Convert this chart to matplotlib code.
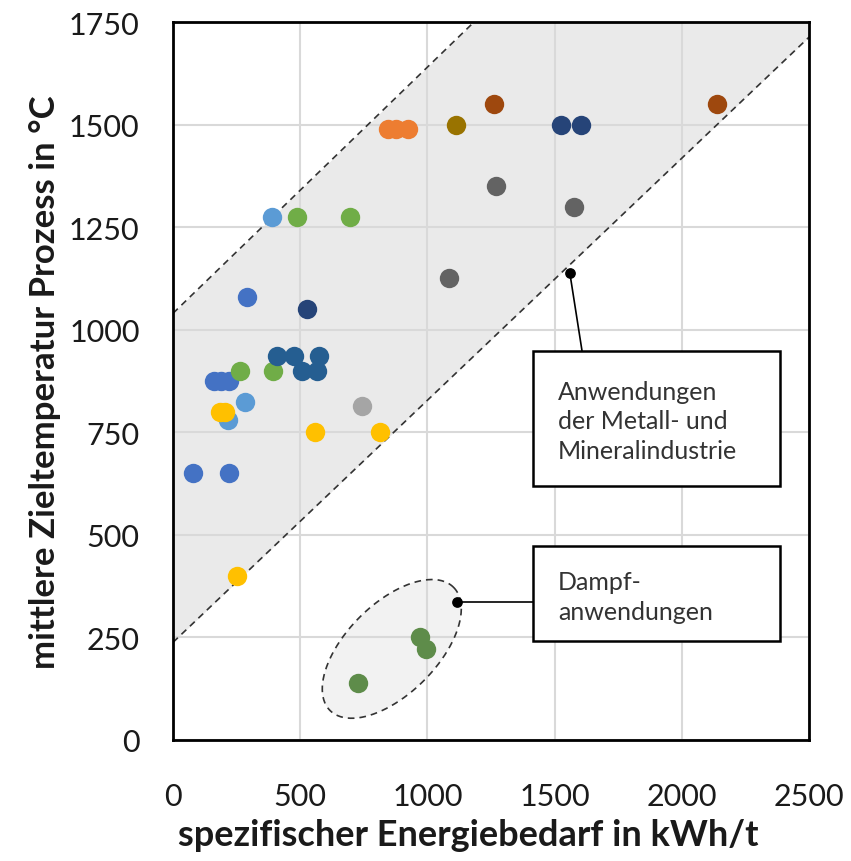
import numpy as np
import matplotlib.pyplot as plt
from matplotlib.patches import Rectangle

# ----------------------------------------------------------------------------
# Data (energy demand in kWh/t, target temperature in degC)
# ----------------------------------------------------------------------------
series_colors = ["#4472C4", "#5B9BD5", "#70AD47", "#255E91", "#264478",
                 "#FFC000", "#A5A5A5", "#ED7D31", "#997300", "#9E480E",
                 "#636363", "#5E8C4A"]

blue_x = [290, 160, 190, 220, 80, 220]
blue_y = [1080, 875, 875, 875, 650, 650]
lightblue_x = [390, 283, 216]
lightblue_y = [1275, 825, 780]
green_x = [487, 696, 263, 393]
green_y = [1275, 1275, 900, 900]
darkblue_x = [408, 475, 574, 507, 565]
darkblue_y = [935, 935, 935, 900, 900]
navy_x = [526, 1525, 1604]
navy_y = [1050, 1500, 1500]
yellow_x = [185, 205, 250, 558, 814]
yellow_y = [800, 800, 400, 750, 750]
gray_x = [741]
gray_y = [815]
orange_x = [845, 875, 925]
orange_y = [1490, 1490, 1490]
olive_x = [1112]
olive_y = [1500]
brown_x = [1262, 2140]
brown_y = [1550, 1550]
darkgray_x = [1270, 1576, 1085]
darkgray_y = [1350, 1300, 1125]
steam_x = [728, 971, 995]
steam_y = [140, 250, 222]

all_x = [blue_x, lightblue_x, green_x, darkblue_x, navy_x, yellow_x, gray_x,
         orange_x, olive_x, brown_x, darkgray_x, steam_x]
all_y = [blue_y, lightblue_y, green_y, darkblue_y, navy_y, yellow_y, gray_y,
         orange_y, olive_y, brown_y, darkgray_y, steam_y]

x_ticks = [0, 500, 1000, 1500, 2000, 2500]
y_ticks = [0, 250, 500, 750, 1000, 1250, 1500, 1750]

# band limits (dashed lines)
UPPER_B, UPPER_M = 1040, 0.60
LOWER_B, LOWER_M = 238, 0.59

# ----------------------------------------------------------------------------
# Plot
# ----------------------------------------------------------------------------
plt.rcParams['font.family'] = ['Lato', 'DejaVu Sans']

fig = plt.figure(figsize=(8.51, 8.62), dpi=100)
ax = fig.add_axes([0.2033, 0.1404, 0.7473, 0.8329])
ax.set_xlim(0, 2500)
ax.set_ylim(0, 1750)

# shaded band
xs = np.linspace(0, 2500, 501)
upper = UPPER_B + UPPER_M * xs
lower = LOWER_B + LOWER_M * xs
ax.fill_between(xs, lower, np.minimum(upper, 1750), color="#EAEAEA",
                lw=0, zorder=0.2)
ax.plot(xs, upper, ls=(0, (4, 3)), color="#333333", lw=1.2, zorder=2)
ax.plot(xs, lower, ls=(0, (4, 3)), color="#333333", lw=1.2, zorder=2)

# ellipse around steam applications
t = np.linspace(0, 2 * np.pi, 300)
cx, cy = 860, 222
ax_a = np.array([243, 150])
ax_b = np.array([125, -78])
ex = cx + ax_a[0] * np.cos(t) + ax_b[0] * np.sin(t)
ey = cy + ax_a[1] * np.cos(t) + ax_b[1] * np.sin(t)
ax.fill(ex, ey, color="#F2F2F2", lw=0, zorder=0.3)
ax.plot(ex, ey, ls=(0, (4, 3)), color="#333333", lw=1.2, zorder=2)

# grid
ax.set_axisbelow(True)
ax.grid(True, color="#D9D9D9", lw=1.5)
for s in ax.spines.values():
    s.set_linewidth(2)
    s.set_color("black")

for xv, yv, c in zip(all_x, all_y, series_colors):
    ax.scatter(xv, yv, s=195, color=c, lw=0, zorder=3)

# annotations
ax.scatter([1560, 1116], [1138, 336], s=45, color="black", zorder=4)
ax.plot([1560, 1608], [1138, 948], color="black", lw=1.2, zorder=4)
ax.plot([1116, 1415], [336, 336], color="black", lw=1.2, zorder=4)

ax.add_patch(Rectangle((1415, 619), 971, 329, facecolor="white",
                       edgecolor="black", lw=1.8, zorder=5))
ax.add_patch(Rectangle((1415, 241), 971, 232, facecolor="white",
                       edgecolor="black", lw=1.8, zorder=5))
ax.text(1513, 778, "Anwendungen\nder Metall- und\nMineralindustrie",
        fontsize=18, color="#333333", va="center", ha="left",
        linespacing=1.35, zorder=6)
ax.text(1513, 350, "Dampf-\nanwendungen", fontsize=18, color="#333333",
        va="center", ha="left", linespacing=1.35, zorder=6)

ax.set_xticks(x_ticks)
ax.set_yticks(y_ticks)
ax.tick_params(length=0, labelsize=22, labelcolor="#1a1a1a")
ax.tick_params(axis="x", pad=30)
ax.tick_params(axis="y", pad=24)

ax.set_xlabel("spezifischer Energiebedarf in kWh/t", fontsize=26,
              fontweight="bold", color="#1a1a1a")
ax.xaxis.set_label_coords(0.465, -0.108)
ax.set_ylabel("mittlere Zieltemperatur Prozess in °C", fontsize=25,
              fontweight="bold", color="#1a1a1a", labelpad=6)

fig.savefig("out.png", dpi=100)
